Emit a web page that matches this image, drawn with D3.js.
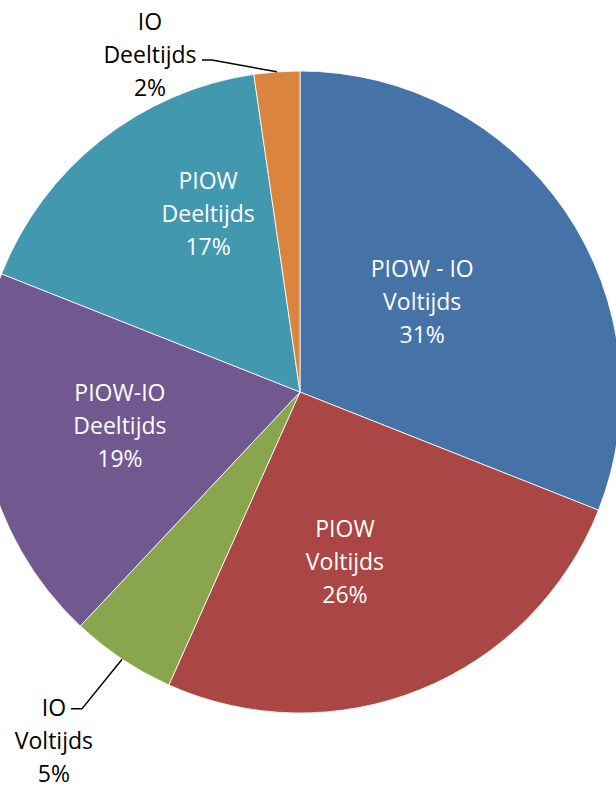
<!DOCTYPE html>
<html>
<head>
<meta charset="utf-8">
<script src="https://cdn.jsdelivr.net/npm/d3@7"></script>
<style>
  body { margin: 0; background: #fff; }
  svg text { font-family: "Open Sans", sans-serif; }
</style>
</head>
<body>
<div id="chart"></div>
<script>
// data (share of total, %)
const categories = ["PIOW - IO", "PIOW", "IO", "PIOW-IO", "PIOW", "IO"];
const studyMode = ["Voltijds", "Voltijds", "Voltijds", "Deeltijds", "Deeltijds", "Deeltijds"];
const shares = [31.0, 25.7, 5.3, 19.0, 16.7, 2.3];
const colors = ["#4572A7", "#AA4643", "#89A54E", "#71588F", "#4198AF", "#DB843D"];

// label placement: [angle in degrees clockwise from top, distance as fraction of radius]
const labelPolar = [[53.6, 0.473], [165.2, 0.548], [215.2, 1.33], [259.3, 0.571], [332.7, 0.624], [336, 1.149]];
const outside = [false, false, true, false, false, true];
// leader end relative to label centre
const leaderEnd = { 2: [17, -32, 11], 5: [52, 5, 10] };

const W = 616, H = 785;
const cx = 300, cy = 392, r = 321;
const lineH = 33;

const svg = d3.select("#chart").append("svg")
    .attr("width", W)
    .attr("height", H);

const g = svg.append("g")
    .attr("transform", "translate(" + cx + "," + cy + ")");

const data = shares.map((v, i) => ({ i: i, value: v, cat: categories[i], mode: studyMode[i] }));

const pie = d3.pie()
    .sort(null)
    .value(d => d.value);

const arc = d3.arc()
    .innerRadius(0)
    .outerRadius(r);

const arcs = pie(data);

g.selectAll("path.slice")
    .data(arcs)
    .enter()
    .append("path")
    .attr("class", "slice")
    .attr("d", arc)
    .attr("fill", d => colors[d.data.i])
    .attr("stroke", "#fff")
    .attr("stroke-width", 0.8);

const polar = (deg, dist) => {
    const a = deg * Math.PI / 180;
    return [dist * Math.sin(a), -dist * Math.cos(a)];
};

// leader lines for the small slices
arcs.forEach(d => {
    const i = d.data.i;
    if (!outside[i]) return;
    const mid = (d.startAngle + d.endAngle) / 2;
    const p0 = [r * Math.sin(mid), -r * Math.cos(mid)];
    const c = polar(labelPolar[i][0], labelPolar[i][1] * r);
    const e = leaderEnd[i];
    const end = [c[0] + e[0], c[1] + e[1]];
    const elbow = [end[0] + e[2], end[1]];
    g.append("path")
        .attr("d", d3.line()([p0, elbow, end]))
        .attr("fill", "none")
        .attr("stroke", "#000")
        .attr("stroke-width", 1.5);
});

const fmt = d3.format(".0f");

arcs.forEach(d => {
    const i = d.data.i;
    const c = polar(labelPolar[i][0], labelPolar[i][1] * r);
    const lines = [d.data.cat, d.data.mode, fmt(d.data.value) + "%"];
    const t = g.append("text")
        .attr("text-anchor", "middle")
        .attr("font-size", 23)
        .attr("fill", outside[i] ? "#000" : "#fff");
    lines.forEach((s, k) => {
        t.append("tspan")
            .attr("x", c[0])
            .attr("y", c[1] + (k - 1) * lineH)
            .attr("dy", "0.35em")
            .text(s);
    });
});
</script>
</body>
</html>
